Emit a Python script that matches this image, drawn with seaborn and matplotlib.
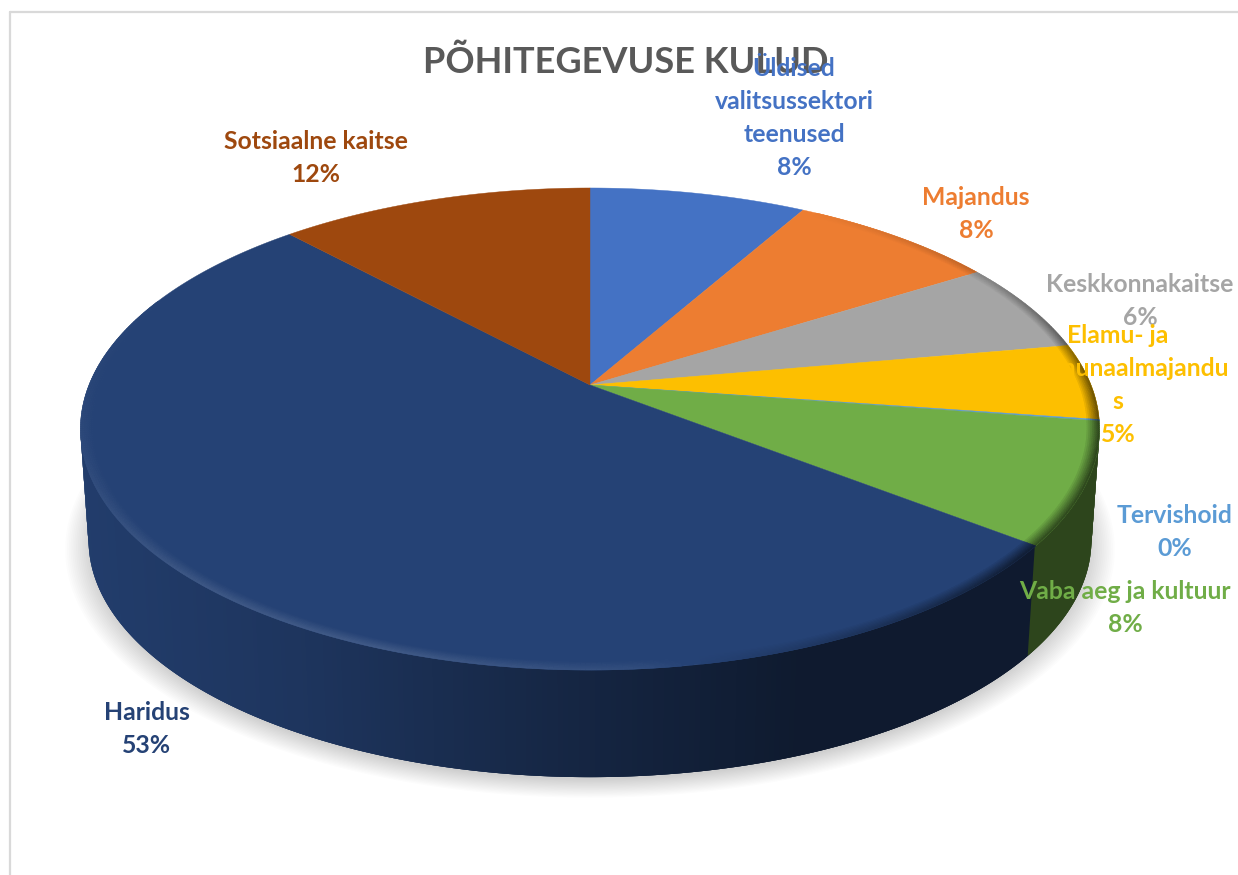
import numpy as np
import matplotlib
matplotlib.use("Agg")
import matplotlib.pyplot as plt
from matplotlib.collections import PolyCollection
import seaborn as sns

# data
categories = ["Üldised\nvalitsussektori\nteenused", "Majandus", "Keskkonnakaitse",
              "Elamu- ja\nkommunaalmajandu\ns", "Tervishoid", "Vaba aeg ja kultuur",
              "Haridus", "Sotsiaalne kaitse"]
shares = [8.2, 7.9, 6.1, 5.1, 0.1, 8.1, 52.6, 11.9]
slice_colors = ["#4472c4", "#ed7d31", "#a5a5a5", "#fdbf00",
                "#5b9bd5", "#70ad47", "#254275", "#9e480e"]
title_text = "PÕHITEGEVUSE KULUD"

# label centres in pixels
label_pos = [(794, 118), (976, 214), (1140, 301), (1118, 385),
             (1175, 532), (1125, 608), (147, 729), (316, 158)]

sns.set_theme(style="white")
plt.rcParams['font.family'] = ['Lato', 'DejaVu Sans']
colors = np.array(sns.color_palette(slice_colors))

fig = plt.figure(figsize=(12.38, 8.75), dpi=100, facecolor="white")
ax = fig.add_axes([0, 0, 1, 1])

# let pie work out the angles, the perspective is done by hand below
wedges, _ = ax.pie(shares, startangle=90, counterclock=False, colors=colors)
angles = [(w.theta1, w.theta2) for w in wedges]
for w in wedges:
    w.remove()
ax.set_aspect("auto")
ax.set_xlim(0, 1238)
ax.set_ylim(875, 0)
ax.axis("off")

k = 0.1826


def project(t, r=1.0, cx=590, cy=385, a=501, b=233):
    t = np.radians(t)
    u = r * np.cos(t)
    v = r * np.sin(t)
    w = 1 + k * v
    return cx + a * u / w, cy - b * v / w


def project_bottom(t, r=1.0, dx=0, dy=0):
    return project(t, r, cx=590 + dx, cy=497 + dy, a=493, b=229)


def slice_color(t):
    t = t % 360
    for (t1, t2), c in zip(angles, colors):
        if t1 <= t <= t2 or t1 <= t - 360 <= t2 or t1 <= t + 360 <= t2:
            return c
    return colors[-1]


# frame
ax.plot([9.5, 9.5], [12, 875], color="#d9d9d9", lw=1.6, zorder=1)
ax.plot([9.5, 1238], [12, 12], color="#d9d9d9", lw=1.6, zorder=1)

# soft shadow, stacked see-through ellipses
tt = np.linspace(0, 360, 361)
for i in range(16):
    grow = 1.045 - i * 0.0035
    x, y = project_bottom(tt, grow, dy=5)
    ax.fill(x, y, color="black", alpha=0.012, lw=0, zorder=2)

# side wall, only the front part between the two silhouette points
# every quad runs over into the next one so no seams show
wall_x = [80, 300, 600, 800, 1100]
wall_f = [0.92, 0.80, 0.55, 0.40, 0.40]
step = 0.5
wall_t = np.arange(190.5, 349.5, step)
quads = []
quad_colors = []
for a1 in wall_t:
    a2 = min(a1 + step * 3, 349.5)
    quads.append([project(a1), project(a2), project_bottom(a2), project_bottom(a1)])
    xm = project(a1 + step / 2)[0]
    quad_colors.append(slice_color(a1 + step / 2) * np.interp(xm, wall_x, wall_f))
ax.add_collection(PolyCollection(quads, facecolors=quad_colors, edgecolors="none",
                                 linewidths=0, zorder=3))

# top faces
for (t1, t2), c in zip(angles, colors):
    arc = np.linspace(t1, t2, max(3, int(t2 - t1) * 2))
    x, y = project(arc)
    ax.fill(np.r_[590, x], np.r_[385, y], color=c, lw=0.3, zorder=4)

# bevel along the rim, light bottom left and dark on the right
light_t = [0, 30, 60, 135, 180, 200, 225, 250, 275, 295, 320, 345, 360]
light_s = [-0.55, -0.2, 0, 0, 0.02, 0.05, 0.11, 0.13, 0.06, -0.2, -0.55, -0.6, -0.55]
rim = np.linspace(0.976, 1.0, 8)
quads = []
quad_colors = []
for (t1, t2), c in zip(angles, colors):
    n = max(2, int((t2 - t1) / 0.5))
    edges = np.linspace(t1, t2, n + 1)
    for a1, a2 in zip(edges[:-1], edges[1:]):
        s = np.interp(((a1 + a2) / 2) % 360, light_t, light_s)
        if abs(s) < 0.01:
            continue
        for r1, r2 in zip(rim[:-1], rim[1:]):
            p = (r2 - rim[0]) / (1 - rim[0])
            quads.append([project(a1, r1), project(a2, r1), project(a2, r2), project(a1, r2)])
            target = np.ones(3) if s > 0 else np.zeros(3)
            quad_colors.append(c + (target - c) * abs(s) * p)
ax.add_collection(PolyCollection(quads, facecolors=quad_colors, edgecolors="face",
                                 linewidths=0.3, zorder=5))

ax.text(625.5, 62, title_text, color="#595959", fontsize=26, fontweight="bold",
        ha="center", va="center", zorder=6)

for name, share, c, (lx, ly) in zip(categories, shares, colors, label_pos):
    ax.text(lx, ly, f"{name}\n{round(share)}%", color=c, fontsize=17.8, fontweight="bold",
            ha="center", va="center", linespacing=1.52, zorder=7)

fig.savefig("out.png", dpi=100, facecolor="white")
